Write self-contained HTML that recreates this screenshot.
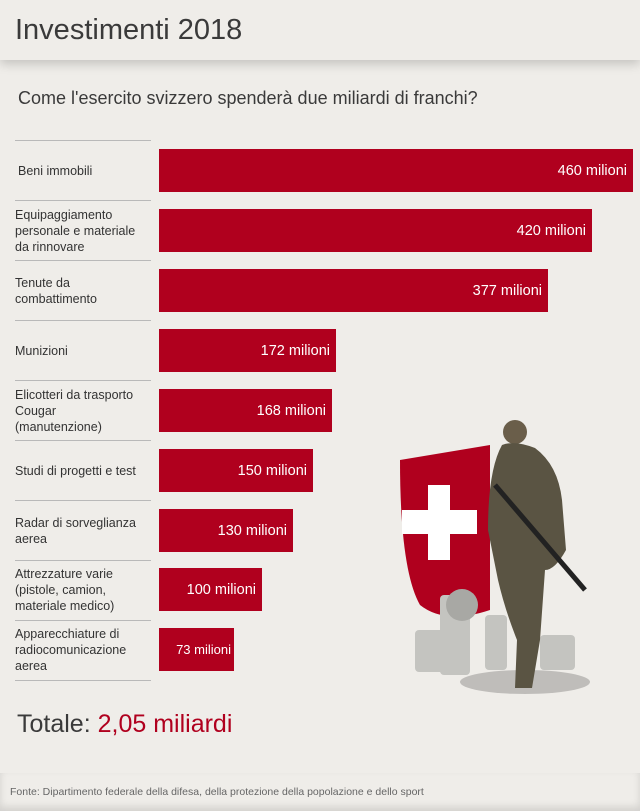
<!DOCTYPE html>
<html><head><meta charset="utf-8"><style>
body{margin:0;width:640px;height:811px;background:#efede9;font-family:"Liberation Sans",sans-serif;position:relative;overflow:hidden;color:#333}
.a{position:absolute}
.hdr{left:0;top:0;width:640px;height:60px;background:#efede9;box-shadow:0 4px 10px rgba(0,0,0,.18)}
.t{left:15px;top:14px;font-size:29px;color:#3a3a3a}
.q{left:18px;top:88px;font-size:18px;color:#3a3a3a}
.ln{left:15px;width:136px;height:1px;background:#b9b9b9}
.lb{left:15px;font-size:12.5px;line-height:16px;color:#333;display:flex;align-items:center;height:43px;width:145px}
.bar{left:159px;height:43px;background:#b0001e;color:#fff;font-size:14.5px;display:flex;align-items:center;justify-content:flex-end;box-sizing:border-box;padding-right:6px}
.tot{left:17px;top:710px;font-size:25px;color:#3a3a3a}
.ft{left:0;top:773px;width:640px;height:38px;box-shadow:0 -4px 8px rgba(0,0,0,.12) inset}
.src{left:10px;top:786px;font-size:10.5px;color:#666}
</style></head><body>
<div class="a hdr"></div>
<div class="a t">Investimenti 2018</div>
<div class="a q">Come l'esercito svizzero spenderà due miliardi di franchi?</div>

<div class="a ln" style="top:140px"></div><div class="a ln" style="top:200px"></div><div class="a ln" style="top:260px"></div><div class="a ln" style="top:320px"></div><div class="a ln" style="top:380px"></div><div class="a ln" style="top:440px"></div><div class="a ln" style="top:500px"></div><div class="a ln" style="top:560px"></div><div class="a ln" style="top:620px"></div><div class="a ln" style="top:680px"></div>

<div class="a lb" style="top:149px;left:18px">Beni immobili</div>
<div class="a lb" style="top:203px;height:56px">Equipaggiamento<br>personale e materiale<br>da rinnovare</div>
<div class="a lb" style="top:269px">Tenute da<br>combattimento</div>
<div class="a lb" style="top:329px">Munizioni</div>
<div class="a lb" style="top:383px;height:56px">Elicotteri da trasporto<br>Cougar<br>(manutenzione)</div>
<div class="a lb" style="top:449px">Studi di progetti e test</div>
<div class="a lb" style="top:509px">Radar di sorveglianza<br>aerea</div>
<div class="a lb" style="top:562px;height:56px">Attrezzature varie<br>(pistole, camion,<br>materiale medico)</div>
<div class="a lb" style="top:622px;height:56px">Apparecchiature di<br>radiocomunicazione<br>aerea</div>

<svg class="a" style="left:390px;top:410px" width="240" height="300">
<ellipse cx="135" cy="272" rx="65" ry="12" fill="#000" opacity=".2"/>
<path d="M10 50 L100 35 L100 200 Q55 215 30 195 Q10 160 10 50Z" fill="#b0001e"/>
<rect x="38" y="75" width="22" height="75" fill="#fff"/><rect x="12" y="100" width="75" height="24" fill="#fff"/>
<g fill="#c4c4c0"><rect x="50" y="185" width="30" height="80" rx="4"/><rect x="25" y="220" width="30" height="42" rx="4"/><rect x="150" y="225" width="35" height="35" rx="4"/><rect x="95" y="205" width="22" height="55" rx="4"/><ellipse cx="72" cy="195" rx="16" ry="16" fill="#a8a8a4"/></g>
<circle cx="125" cy="22" r="12" fill="#6a5e4a"/>
<path d="M112 35 Q125 30 145 38 Q168 55 172 90 L176 140 Q165 160 155 160 L150 230 L142 278 L125 278 L127 230 Q115 200 108 170 L98 120 Q98 60 112 35Z" fill="#5a5443"/>
<path d="M105 75 L195 180" stroke="#222" stroke-width="5"/>
</svg>

<div class="a bar" style="top:149px;width:474px">460 milioni</div>
<div class="a bar" style="top:209px;width:433px">420 milioni</div>
<div class="a bar" style="top:269px;width:389px">377 milioni</div>
<div class="a bar" style="top:329px;width:177px">172 milioni</div>
<div class="a bar" style="top:389px;width:173px">168 milioni</div>
<div class="a bar" style="top:449px;width:154px">150 milioni</div>
<div class="a bar" style="top:509px;width:134px">130 milioni</div>
<div class="a bar" style="top:568px;width:103px">100 milioni</div>
<div class="a bar" style="top:628px;width:75px;font-size:13px;padding-right:3px">73 milioni</div>

<div class="a tot">Totale: <span style="color:#b0001e">2,05 miliardi</span></div>
<div class="a ft"></div>
<div class="a src">Fonte: Dipartimento federale della difesa, della protezione della popolazione e dello sport</div>
</body></html>
